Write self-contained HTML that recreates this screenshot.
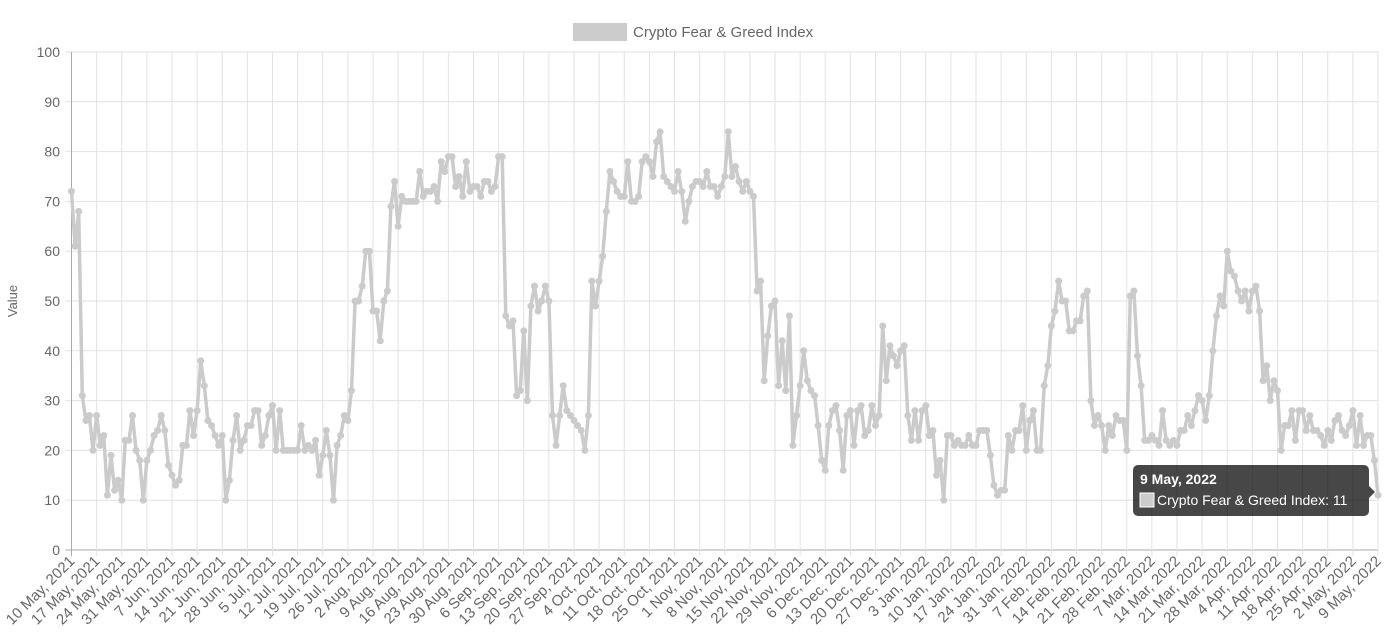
<!DOCTYPE html>
<html><head><meta charset="utf-8"><style>
html,body{margin:0;padding:0;background:#fff;}
svg{display:block;font-family:"Liberation Sans",sans-serif;}
</style></head><body>
<svg id="c" width="1396" height="643" xmlns="http://www.w3.org/2000/svg">
<rect x="573" y="23" width="54" height="18" fill="#cccccc"/>
<text x="633" y="37" font-size="15" fill="#666">Crypto Fear &amp; Greed Index</text>
<text transform="translate(17,301) rotate(-90)" font-size="13" fill="#666" text-anchor="middle">Value</text>
<g id="grid"></g>
<g id="data"></g>
<g id="tip">
<rect x="1133" y="465" width="236" height="51" rx="5" fill="rgba(0,0,0,0.72)"/>
<polygon points="1369,486 1375,492 1369,498" fill="rgba(0,0,0,0.72)"/>
<text x="1140" y="484" font-size="14" font-weight="bold" fill="#fff">9 May, 2022</text>
<rect x="1140" y="493" width="14" height="14" fill="#ccc" stroke="#fff" stroke-width="1"/>
<text x="1157" y="505" font-size="14" fill="#fff">Crypto Fear &amp; Greed Index: 11</text>
</g>
</svg>
<script>
var d=[72,61,68,31,26,27,20, 27,21,23,11,19,12,14, 10,22,22,27,20,18,10, 18,20,23,24,27,24,17,
15,13,14,21,21,28,23, 28,38,33,26,25,23,21, 23,10,14,22,27,20,22, 25,25,28,28,21,23,27,
29,20,28,20,20,20,20, 20,25,20,21,20,22,15, 19,24,19,10,21,23, 27,26,32,50,50,53,60,
60,48,48,42,50,52,69, 74,65,71,70,70,70,70, 76,71,72,72,73,70, 78,76,79,79,73,75,71,
78,72,73,73,71,74,74, 72,73,79,79,47,45,46, 31,32,44,30,49,53,48, 50,53,50,27,21,27,33,
28,27,26,25,24,20,27, 54,49,54,59,68,76,74, 72,71,71,78,70,70,71, 78,79,78,75,82,84,75,
74,73,72,76,72,66,70, 73,74,74,73,76,73,73, 71,73,75,84,75,77,74, 72,74,72,71,52,54,34,
43,49,50,33,42,32,47, 21,27,33,40,34,32,31, 25,18,16,25,28,29,24, 16,27,28,21,28,29,23,
24,29,25,27,45,34,41, 39,37,40,41,27,22,28, 22,28,29,23,24,15, 18,10,23,23,21,22,21,
21,23,21,21,24,24,24, 19,13,11,12,12,23,20, 24,24,29,20,26,28,20, 20,33,37,45,48,54,50,
50,44,44,46,46,51,52, 30,25,27,25,20,25,23, 27,26,26,20,51,52,39, 33,22,22,23,22,21,28,
22,21,22,21,24, 24,27,25,28,31,30,26, 31,40,47,51,49,60,56, 55,52,50,52,48,52,53,
48,34,37,30,34,32,20, 25,25,28,22,28,28,24, 27,24,24,23,21,24,22, 26,27,24,23,25, 28,21,27,21,23,23,18, 11];
var X0=71.5,X1=1378,Y0=550,Y1=52,ns="http://www.w3.org/2000/svg";
function el(t,a,p,txt){var e=document.createElementNS(ns,t);for(var k in a)e.setAttribute(k,a[k]);if(txt)e.textContent=txt;p.appendChild(e);return e;}
var g=document.getElementById('grid'),dg=document.getElementById('data');
for(var i=0;i<=10;i++){var y=Y0-(Y0-Y1)*i/10;
 el('line',{x1:X0-6,x2:X1,y1:y,y2:y,stroke:i==0?'#aaa':'#e2e2e2','stroke-width':1},g);
 el('text',{x:60,y:y+5,'font-size':14,fill:'#666','text-anchor':'end'},g,String(i*10));}
var mon=['Jan','Feb','Mar','Apr','May','Jun','Jul','Aug','Sep','Oct','Nov','Dec'];
var dx=(X1-X0)/364;
for(var w=0;w<=52;w++){var x=X0+w*7*dx;
 el('line',{x1:x,x2:x,y1:Y1,y2:Y0+6,stroke:w==0?'#aaa':'#e2e2e2','stroke-width':1},g);
 var dt=new Date(Date.UTC(2021,4,10+w*7));
 var s=dt.getUTCDate()+' '+mon[dt.getUTCMonth()]+', '+dt.getUTCFullYear();
 el('text',{transform:'translate('+(x+4)+','+(Y0+12)+') rotate(-45)','font-size':15,fill:'#666','text-anchor':'end'},g,s);}
var n=d.length-1;dx=(X1-X0)/n;
var pts=d.map(function(v,i){return (X0+i*dx).toFixed(1)+','+(Y0-(Y0-Y1)*v/100).toFixed(1);});
el('polyline',{points:pts.join(' '),fill:'none',stroke:'#cbcbcb','stroke-width':3.5,'stroke-linejoin':'round'},dg);
pts.forEach(function(p){var a=p.split(',');el('circle',{cx:a[0],cy:a[1],r:3.5,fill:'#cbcbcb'},dg);});
</script>
</body></html>
